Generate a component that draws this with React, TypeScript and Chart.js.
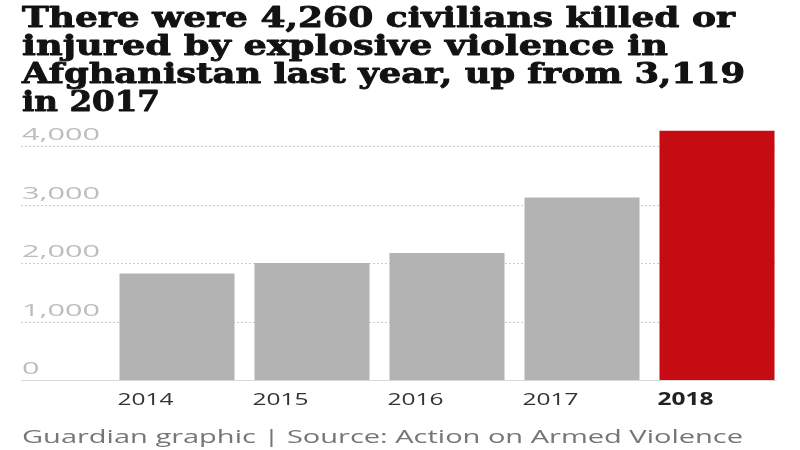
import React, { useEffect, useRef } from "react";
import { Chart, registerables } from "chart.js";

Chart.register(...registerables);

// ---- data ----
const categories = ["2014", "2015", "2016", "2017", "2018"];
const casualties = [1820, 2000, 2170, 3119, 4260];
const highlightYear = "2018";
const yTicks = [0, 1000, 2000, 3000, 4000];
const titleLines = [
  "There were 4,260 civilians killed or",
  "injured by explosive violence in",
  "Afghanistan last year, up from 3,119",
  "in 2017",
];
const footerText = "Guardian graphic | Source: Action on Armed Violence";

// ---- layout / style ----
const W = 800;
const H = 450;
const GRAY = "#b3b3b3";
const RED = "#c70b12";
const TEXT_LEFT = 22;
const GRID_LEFT = 21;
const GRID_RIGHT = 777;
const TITLE_FONT = "bold 28px 'DejaVu Serif'";
const TITLE_BASELINES = [27, 55, 83, 111];
const TITLE_WIDTHS = [713, 646, 723, 138];
const FOOTER_FONT = "18.5px 'Open Sans'";
const FOOTER_BASELINE = 443;
const FOOTER_WIDTH = 721;
const Y_FONT = "15.5px 'Open Sans'";
const Y_LABEL_WIDTH = 78; // width of "4,000"
const Y_LABEL_RAISE = 7;
const X_FONT = "17px 'Open Sans'";
const X_FONT_BOLD = "bold 17px 'Open Sans'";
const X_LABEL_WIDTH = 56; // width of "2014"
const X_BASELINE = 405;

const fmt = new Intl.NumberFormat("en-US");

function stretchFor(ctx: CanvasRenderingContext2D, text: string, font: string, target: number) {
  ctx.save();
  ctx.font = font;
  const w = ctx.measureText(text).width;
  ctx.restore();
  return w > 0 ? target / w : 1;
}

function drawStretched(
  ctx: CanvasRenderingContext2D,
  text: string,
  x: number,
  y: number,
  font: string,
  color: string,
  k: number,
  strokeWidth = 0
) {
  ctx.save();
  ctx.font = font;
  ctx.fillStyle = color;
  ctx.textAlign = "left";
  ctx.textBaseline = "alphabetic";
  ctx.translate(x, y);
  ctx.scale(k, 1);
  ctx.fillText(text, 0, 0);
  if (strokeWidth > 0) {
    ctx.strokeStyle = color;
    ctx.lineWidth = strokeWidth;
    ctx.lineJoin = "round";
    ctx.strokeText(text, 0, 0);
  }
  ctx.restore();
}

const guardianPlugin = {
  id: "guardianDecor",
  beforeDatasetsDraw(chart: any) {
    const ctx: CanvasRenderingContext2D = chart.ctx;
    const yScale = chart.scales.y;
    const kY = stretchFor(ctx, fmt.format(yTicks[yTicks.length - 1]), Y_FONT, Y_LABEL_WIDTH);
    ctx.save();
    yTicks.forEach((v) => {
      const py = Math.round(yScale.getPixelForValue(v)) + 0.5;
      ctx.beginPath();
      ctx.lineWidth = 1;
      if (v === 0) {
        ctx.setLineDash([]);
        ctx.strokeStyle = "#d9d9d9";
      } else {
        ctx.setLineDash([2, 2]);
        ctx.strokeStyle = "#cccccc";
      }
      ctx.moveTo(GRID_LEFT, py);
      ctx.lineTo(GRID_RIGHT, py);
      ctx.stroke();
      drawStretched(ctx, fmt.format(v), TEXT_LEFT, py - Y_LABEL_RAISE, Y_FONT, "#bdbdbd", kY);
    });
    ctx.restore();
  },
  afterDraw(chart: any) {
    const ctx: CanvasRenderingContext2D = chart.ctx;
    // title
    titleLines.forEach((line, i) => {
      const k = stretchFor(ctx, line, TITLE_FONT, TITLE_WIDTHS[i]);
      drawStretched(ctx, line, TEXT_LEFT, TITLE_BASELINES[i], TITLE_FONT, "#121212", k, 0.9);
    });
    // x labels, left-aligned with each bar
    const kX = stretchFor(ctx, categories[0], X_FONT, X_LABEL_WIDTH);
    const meta = chart.getDatasetMeta(0);
    const xScale = chart.scales.x;
    meta.data.forEach((bar: any, i: number) => {
      const label = String(xScale.getLabelForValue(i));
      const bold = label === highlightYear;
      const left = bar.x - bar.width / 2 - 2;
      drawStretched(ctx, label, left, X_BASELINE, bold ? X_FONT_BOLD : X_FONT, bold ? "#222222" : "#333333", kX);
    });
    // footer
    const kF = stretchFor(ctx, footerText, FOOTER_FONT, FOOTER_WIDTH);
    drawStretched(ctx, footerText, TEXT_LEFT, FOOTER_BASELINE, FOOTER_FONT, "#767676", kF);
  },
};

export default function App() {
  const canvasRef = useRef<HTMLCanvasElement | null>(null);

  useEffect(() => {
    const canvas = canvasRef.current;
    if (!canvas) return;
    const chart = new Chart(canvas, {
      type: "bar",
      data: {
        labels: categories,
        datasets: [
          {
            data: casualties,
            backgroundColor: categories.map((c) => (c === highlightYear ? RED : GRAY)),
            borderWidth: 0,
            barPercentage: 0.852,
            categoryPercentage: 1,
          },
        ],
      },
      options: {
        responsive: false,
        animation: false,
        layout: {
          padding: { left: 109.5, right: 15.5, top: 128.45, bottom: 70 },
        },
        plugins: {
          legend: { display: false },
          tooltip: { enabled: false },
          title: { display: false },
        },
        scales: {
          x: { type: "category", display: false, offset: true },
          y: { type: "linear", display: false, min: 0, max: 4300 },
        },
      },
      plugins: [guardianPlugin],
    });
    return () => chart.destroy();
  }, []);

  return (
    <div style={{ position: "fixed", left: 0, top: 0, width: W, height: H, background: "#ffffff" }}>
      <canvas ref={canvasRef} width={W} height={H} style={{ width: W, height: H, display: "block" }} />
    </div>
  );
}
